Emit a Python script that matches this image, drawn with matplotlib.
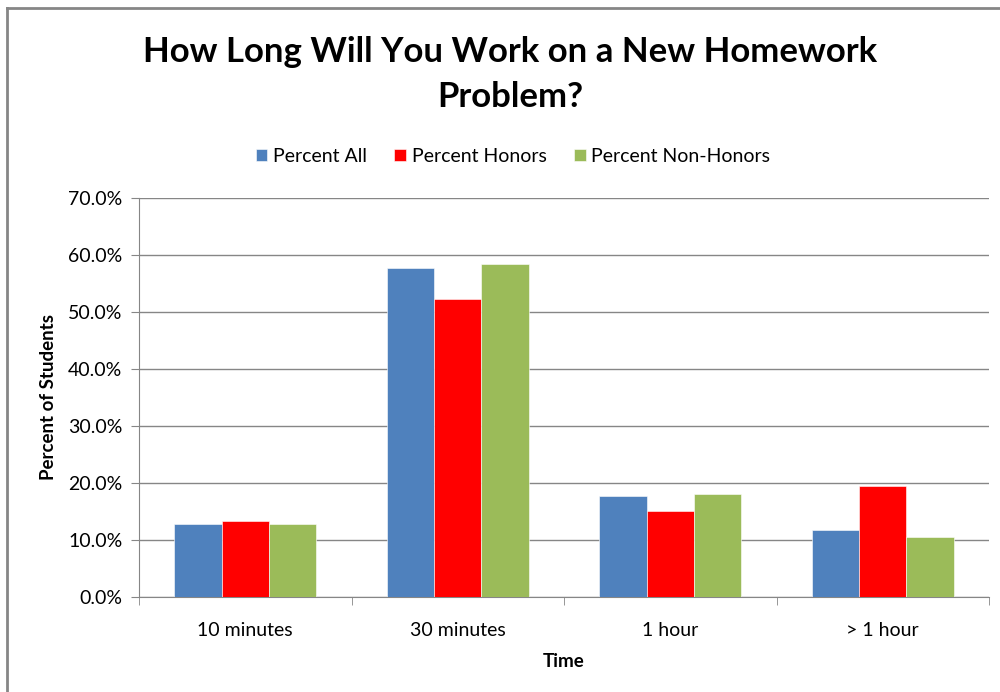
import matplotlib.pyplot as plt
import numpy as np
from matplotlib.lines import Line2D
from matplotlib.ticker import FuncFormatter, MultipleLocator

categories = ["10 minutes", "30 minutes", "1 hour", "> 1 hour"]
series_names = ["Percent All", "Percent Honors", "Percent Non-Honors"]
percent_all = [12.8, 57.7, 17.7, 11.7]
percent_honors = [13.4, 52.2, 15.0, 19.4]
percent_non_honors = [12.8, 58.4, 18.1, 10.6]
colors = ["#4F81BD", "#FF0000", "#9BBB59"]

plt.rcParams["font.family"] = ["Lato", "DejaVu Sans"]

fig = plt.figure(figsize=(10, 6.92), dpi=100)
ax = fig.add_axes([0.139, 0.1373, 0.85, 0.5766])

x = np.arange(len(categories))
width = 0.222
for i, (vals, name, col) in enumerate(zip([percent_all, percent_honors, percent_non_honors], series_names, colors)):
    ax.bar(x + (i - 1) * width, vals, width, color=col, label=name,
           edgecolor="white", linewidth=0.4, zorder=3)

ax.set_xlim(-0.5, len(categories) - 0.5)
ax.set_ylim(0, 70)
ax.yaxis.set_major_locator(MultipleLocator(10))
ax.yaxis.set_major_formatter(FuncFormatter(lambda v, _: f"{v:.1f}%"))
ax.grid(axis="y", color="#868686", linewidth=1.0, zorder=0)

ax.set_xticks(x)
ax.set_xticklabels(categories)
ax.set_xticks(np.arange(len(categories) + 1) - 0.5, minor=True)
ax.tick_params(axis="x", which="major", length=0, labelsize=14, pad=18)
ax.tick_params(axis="x", which="minor", length=6, color="#868686", direction="out")
ax.tick_params(axis="y", length=6, color="#868686", labelsize=14, pad=6)

for side in ["top", "right"]:
    ax.spines[side].set_visible(False)
for side in ["left", "bottom"]:
    ax.spines[side].set_color("#868686")

ax.set_ylabel("Percent of Students", fontsize=13.5, fontweight="bold", labelpad=8)
ax.set_xlabel("Time", fontsize=13.5, fontweight="bold", labelpad=10)

fig.text(0.51, 0.892, "How Long Will You Work on a New Homework\nProblem?",
         ha="center", va="center", fontsize=25, fontweight="bold", linespacing=1.5)

ax.legend(loc="center", bbox_to_anchor=(0.44, 1.105), ncol=3, frameon=False,
          fontsize=14, handlelength=0.6, handleheight=0.6, handletextpad=0.3,
          columnspacing=1.4)

# chart area border (top and left edges visible)
fig.add_artist(Line2D([0.007, 1.0], [0.989, 0.989], color="#868686", linewidth=2))
fig.add_artist(Line2D([0.007, 0.007], [0.0, 0.989], color="#868686", linewidth=2))

fig.savefig("out.png", dpi=100)
